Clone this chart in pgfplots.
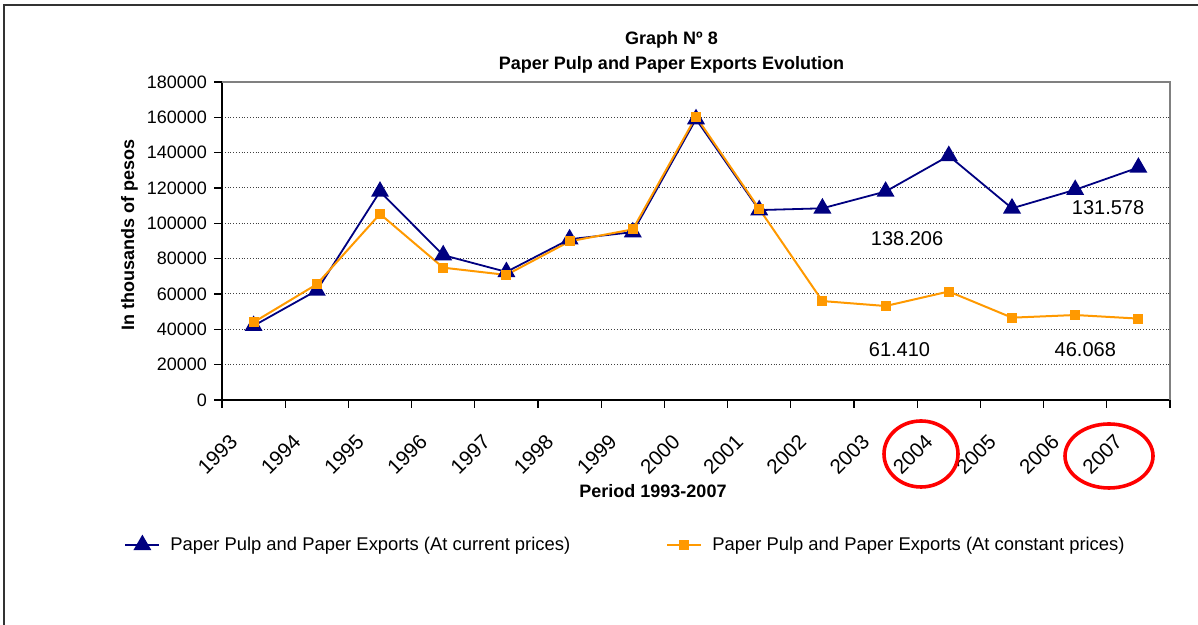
\documentclass[border=0pt]{standalone}
\usepackage{fontspec}
\setmainfont{Liberation Sans}
\usepackage{pgfplots}
\pgfplotsset{compat=1.18}
\definecolor{navyc}{RGB}{0,0,128}
\definecolor{orangec}{RGB}{255,153,0}
\begin{document}
\begin{tikzpicture}[x=1pt,y=1pt]
\path[use as bounding box] (0,0) rectangle (599,312.5);
\draw[line width=1.4pt, black!80] (2,0) -- (2,310) -- (599,310);
\begin{axis}[
  at={(111pt,112.5pt)}, anchor=south west,
  scale only axis, width=474pt, height=159pt,
  xmin=0, xmax=15, ymin=0, ymax=180000,
  axis lines=left,
  axis line style={-, black, line width=1pt},
  xtick={0.5,1.5,...,14.5},
  xticklabels={1993,1994,1995,1996,1997,1998,1999,2000,2001,2002,2003,2004,2005,2006,2007},
  minor xtick={0,1,...,15},
  major x tick style={draw=none},
  ytick={0,20000,...,180000},
  tick align=outside,
  major tick length=4pt, minor tick length=4pt,
  tick style={black, line width=0.6pt},
  every minor tick/.style={black, line width=0.6pt},
  ymajorgrids,
  grid style={densely dotted, black!75, line width=0.5pt},
  scaled y ticks=false,
  /pgf/number format/assume math mode=true,
  yticklabel style={/pgf/number format/fixed, /pgf/number format/1000 sep={}},
  tick label style={font=\fontsize{9}{11}\selectfont},
  x tick label style={font=\fontsize{10.3}{12}\selectfont, xshift=-12.5pt, yshift=-7.5pt, rotate=45, anchor=north east},
  legend style={at={(-0.1097,-0.456)}, anchor=west, draw=none, fill=none,
    font=\fontsize{9.2}{11}\selectfont, legend columns=2,
    /tikz/every odd column/.append style={column sep=3pt},
    /tikz/every even column/.append style={column sep=46pt}},
  legend cell align=left,
  clip=false,
]
\addplot[navyc, line width=0.9pt, mark=triangle*, mark size=4.3pt, mark options={solid, fill=navyc}]
  coordinates {(0.5,42000) (1.5,62000) (2.5,118000) (3.5,82000) (4.5,72500) (5.5,91000) (6.5,95000) (7.5,159000) (8.5,107500) (9.5,108500) (10.5,118000) (11.5,138206) (12.5,108500) (13.5,119000) (14.5,131578)};
\addlegendentry{Paper Pulp and Paper Exports (At current prices)}
\addplot[orangec, line width=1pt, mark=square*, mark size=2pt, mark options={solid, fill=orangec}]
  coordinates {(0.5,44000) (1.5,65500) (2.5,105300) (3.5,74900) (4.5,70800) (5.5,89800) (6.5,96600) (7.5,160400) (8.5,108200) (9.5,56000) (10.5,53200) (11.5,61410) (12.5,46600) (13.5,48100) (14.5,46068)};
\addlegendentry{Paper Pulp and Paper Exports (At constant prices)}
\draw[black!50, line width=0.8pt] (rel axis cs:0,1) -- (rel axis cs:1,1) -- (rel axis cs:1,0);
\node[font=\fontsize{10}{12}\selectfont] at (axis cs:14.02,109000) {131.578};
\node[font=\fontsize{10}{12}\selectfont] at (axis cs:10.84,91500) {138.206};
\node[font=\fontsize{10}{12}\selectfont] at (axis cs:10.72,28300) {61.410};
\node[font=\fontsize{10}{12}\selectfont] at (axis cs:13.66,28300) {46.068};
\end{axis}
\node[font=\bfseries\fontsize{9}{11}\selectfont] at (335.75,292.5) {Graph Nº 8};
\node[font=\bfseries\fontsize{9}{11}\selectfont] at (335.75,280) {Paper Pulp and Paper Exports Evolution};
\node[font=\bfseries\fontsize{9}{11}\selectfont, rotate=90] at (64.75,195) {In thousands of pesos};
\node[font=\bfseries\fontsize{9}{11}\selectfont] at (326.5,67) {Period 1993-2007};
\draw[red, line width=1.8pt] (460.5,85.5) ellipse [x radius=18.5, y radius=16.5];
\draw[red, line width=1.8pt] (554.5,84.5) ellipse [x radius=22, y radius=16];
\end{tikzpicture}
\end{document}
